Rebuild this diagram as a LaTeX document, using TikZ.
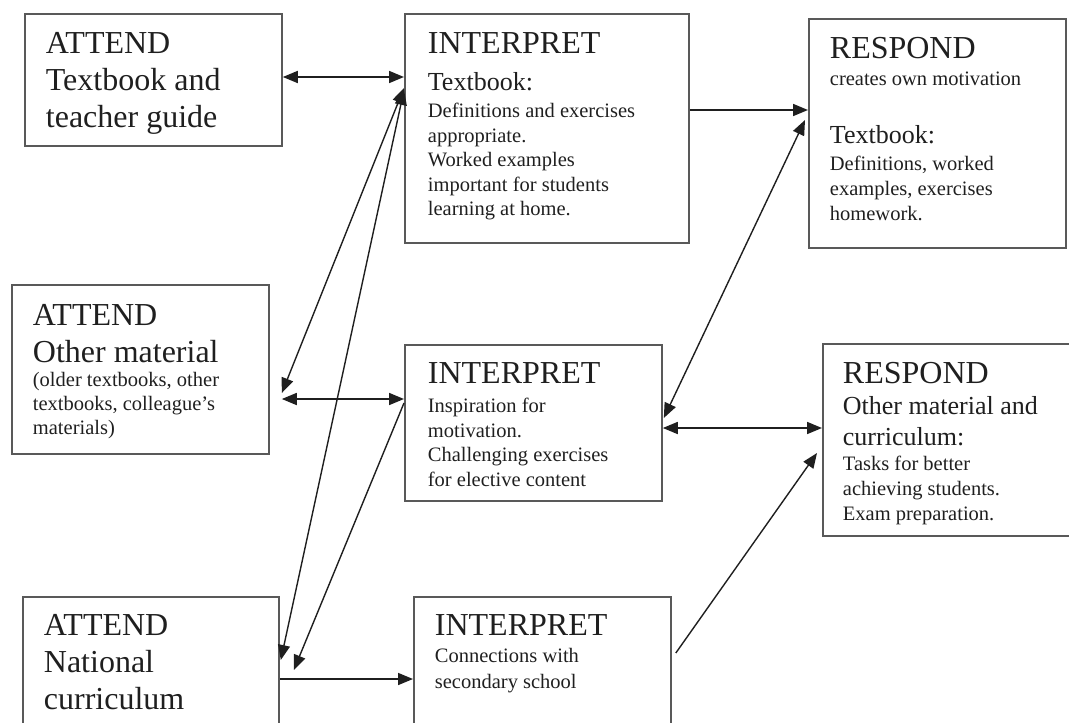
\documentclass[tikz,border=0pt]{standalone}
\usepackage{fontspec}
\setmainfont{Liberation Serif}
\usetikzlibrary{arrows.meta}

\definecolor{boxline}{gray}{0.35}
\definecolor{inkgray}{gray}{0.12}

\newcommand{\bigtext}{\fontsize{16pt}{18.5pt}\selectfont}
\newcommand{\boxcontent}[3]{\parbox[c][#2][t]{#1}{\raggedright #3}}

\begin{document}
\begin{tikzpicture}[
                x=0.5pt, y=-0.5pt,
                every node/.style={text=inkgray},
                box/.style={draw=boxline, line width=0.9pt, anchor=north west,
                    inner ysep=0pt, inner xsep=10.5pt},
                wide/.style={inner xsep=11.5pt},
                >={Triangle[length=7.5pt,width=6pt]},
                link/.style={draw=inkgray, line width=0.85pt},
                slant/.style={draw=inkgray, line width=0.7pt},
            ]
            \useasboundingbox (0,0) rectangle (1069,722);

            \node[box] (a1) at (24,13) {\boxcontent{107.5pt}{66pt}{%
                \bigtext\rule{0pt}{20pt}ATTEND\\Textbook and\\teacher guide\par}};
            \node[box, wide] (i1) at (404,13) {\boxcontent{119pt}{114.5pt}{%
                {\bigtext\rule{0pt}{20pt}INTERPRET\par}
                {\fontsize{13pt}{18.5pt}\selectfont Textbook:\par}
                \vspace{1.25pt}
                {\fontsize{10.25pt}{12.25pt}\selectfont Definitions and exercises\\
                appropriate.\\Worked examples\\important for students\\
                learning at home.\par}}};
            \node[box] (r1) at (808,18) {\boxcontent{107.5pt}{114.5pt}{%
                {\bigtext\rule{0pt}{20pt}RESPOND\par}
                {\fontsize{10.25pt}{13.5pt}\selectfont creates own motivation\par}
                \vspace{13pt}
                {\fontsize{13pt}{16pt}\selectfont Textbook:\par}
                \vspace{1pt}
                {\fontsize{10.25pt}{12.5pt}\selectfont Definitions, worked\\
                examples, exercises\\homework.\par}}};

            \node[box] (a2) at (11,284) {\boxcontent{107.5pt}{84.5pt}{%
                {\bigtext\rule{0pt}{20.5pt}ATTEND\\Other material\par}
                {\fontsize{10.25pt}{12pt}\selectfont (older textbooks, other\\
                textbooks, colleague’s\\materials)\par}}};
            \node[box, wide] (i2) at (404,344) {\boxcontent{105.5pt}{78pt}{%
                {\bigtext\rule{0pt}{19.5pt}INTERPRET\par}
                \vspace{2.25pt}
                {\fontsize{10.25pt}{12.25pt}\selectfont Inspiration for\\motivation.\\
                Challenging exercises\\for elective content\par}}};
            \node[box, inner xsep=10pt] (r2) at (822,343) {\boxcontent{110pt}{96pt}{%
                {\bigtext\rule{0pt}{20pt}RESPOND\par}
                {\fontsize{13pt}{15.5pt}\selectfont Other material and\\curriculum:\par}
                {\fontsize{10.25pt}{12.5pt}\selectfont Tasks for better\\
                achieving students.\\Exam preparation.\par}}};

            \node[box] (a3) at (22,596) {\boxcontent{107pt}{75pt}{%
                \bigtext\rule{0pt}{19.5pt}ATTEND\\National\\curriculum\par}};
            \node[box] (i3) at (413,596) {\boxcontent{107.5pt}{75pt}{%
                {\bigtext\rule{0pt}{19.5pt}INTERPRET\par}
                {\fontsize{10.25pt}{13.25pt}\selectfont Connections with\\
                secondary school\par}}};

            \draw[link, <->] ([yshift=-32pt]a1.north east) -- ([yshift=-32pt]i1.north west);
            \draw[link, ->] ([yshift=-48.5pt]i1.north east) -- ([yshift=-46pt]r1.north west);
            \draw[link, <->] ([xshift=6pt,yshift=-57.5pt]a2.north east) -- ([yshift=-27.5pt]i2.north west);
            \draw[link, <->] ([yshift=-42pt]i2.north east) -- ([yshift=-42.5pt]r2.north west);
            \draw[link, ->] ([yshift=-41.5pt]a3.north east) -- ([yshift=-41.5pt]i3.north west);

            \draw[slant, <->] ([yshift=-37.5pt]i1.north west) -- ([xshift=6pt,yshift=-54.5pt]a2.north east);
            \draw[slant, <->] ([yshift=-38.5pt]i1.north west) -- ([xshift=0.5pt,yshift=-32pt]a3.north east);
            \draw[slant, ->] ([yshift=-29.5pt]i2.north west) -- ([xshift=7pt,yshift=-37pt]a3.north east);
            \draw[slant, <->] ([xshift=-1.5pt,yshift=-51pt]r1.north west) -- ([xshift=0.5pt,yshift=-37pt]i2.north east);
            \draw[slant, ->] ([xshift=2pt,yshift=-28.5pt]i3.north east) -- ([xshift=-2.5pt,yshift=-55pt]r2.north west);
            \end{tikzpicture}
\end{document}
